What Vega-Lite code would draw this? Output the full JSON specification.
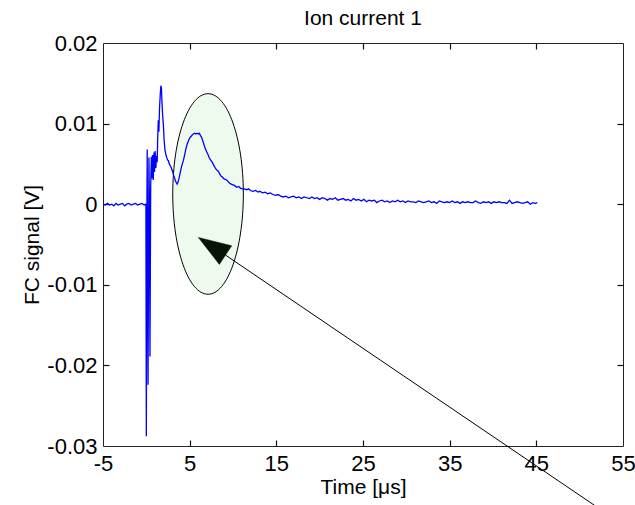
{
  "$schema": "https://vega.github.io/schema/vega-lite/v6.json",
  "autosize": {"type": "none"},
  "padding": {"left": 103, "top": 43, "right": 12, "bottom": 59},
  "width": 520,
  "height": 403,
  "background": "white",
  "title": {"text": "Ion current 1", "anchor": "middle", "frame": "group", "offset": 3},
  "datasets": {
    "signal": [
      {"t": -5, "v": 0.0000}, {"t": -4.75, "v": -0.0001}, {"t": -4.5, "v": 0.0001}, {"t": -4.25, "v": -0.0001},
      {"t": -4, "v": 0.0000}, {"t": -3.75, "v": -0.0002}, {"t": -3.5, "v": 0.0001}, {"t": -3.25, "v": -0.0001},
      {"t": -3, "v": 0.0000}, {"t": -2.75, "v": 0.0001}, {"t": -2.5, "v": -0.0002}, {"t": -2.25, "v": 0.0000},
      {"t": -2, "v": 0.0001}, {"t": -1.75, "v": -0.0001}, {"t": -1.5, "v": 0.0000}, {"t": -1.25, "v": 0.0001},
      {"t": -1, "v": -0.0001}, {"t": -0.75, "v": 0.0000}, {"t": -0.5, "v": 0.0001}, {"t": -0.25, "v": -0.0001},
      {"t": -0.1, "v": 0.0000}, {"t": -0.05, "v": -0.0002},
      {"t": 0.0, "v": -0.0288}, {"t": 0.05, "v": -0.004}, {"t": 0.1, "v": 0.0068}, {"t": 0.15, "v": -0.010},
      {"t": 0.2, "v": -0.0224}, {"t": 0.25, "v": -0.006}, {"t": 0.3, "v": 0.0058}, {"t": 0.35, "v": 0.001},
      {"t": 0.42, "v": -0.0189}, {"t": 0.5, "v": 0.002}, {"t": 0.58, "v": 0.0059}, {"t": 0.65, "v": 0.0032},
      {"t": 0.72, "v": 0.0061}, {"t": 0.8, "v": 0.003}, {"t": 0.88, "v": 0.0064}, {"t": 0.95, "v": 0.0040},
      {"t": 1.02, "v": 0.0066}, {"t": 1.1, "v": 0.0045}, {"t": 1.18, "v": 0.0060}, {"t": 1.25, "v": 0.0052},
      {"t": 1.32, "v": 0.0085}, {"t": 1.38, "v": 0.0104}, {"t": 1.45, "v": 0.0090}, {"t": 1.52, "v": 0.0118},
      {"t": 1.6, "v": 0.0135}, {"t": 1.68, "v": 0.0147}, {"t": 1.74, "v": 0.0144}, {"t": 1.8, "v": 0.0128},
      {"t": 1.88, "v": 0.0110}, {"t": 1.96, "v": 0.0100}, {"t": 2.05, "v": 0.0080}, {"t": 2.15, "v": 0.0067},
      {"t": 2.25, "v": 0.0062}, {"t": 2.35, "v": 0.0058}, {"t": 2.45, "v": 0.0055}, {"t": 2.55, "v": 0.0054},
      {"t": 2.65, "v": 0.0050}, {"t": 2.75, "v": 0.0048}, {"t": 2.85, "v": 0.0046}, {"t": 2.95, "v": 0.0043},
      {"t": 3.05, "v": 0.0040}, {"t": 3.15, "v": 0.0036}, {"t": 3.25, "v": 0.0033}, {"t": 3.35, "v": 0.0029},
      {"t": 3.45, "v": 0.0027}, {"t": 3.55, "v": 0.0025}, {"t": 3.65, "v": 0.0027}, {"t": 3.75, "v": 0.0031},
      {"t": 3.85, "v": 0.0036}, {"t": 3.95, "v": 0.0041}, {"t": 4.05, "v": 0.0046}, {"t": 4.15, "v": 0.0050},
      {"t": 4.27, "v": 0.0054}, {"t": 4.4, "v": 0.0060}, {"t": 4.55, "v": 0.0068}, {"t": 4.7, "v": 0.0074},
      {"t": 4.84, "v": 0.0078}, {"t": 5.0, "v": 0.0082}, {"t": 5.15, "v": 0.0084}, {"t": 5.3, "v": 0.0086},
      {"t": 5.42, "v": 0.0087}, {"t": 5.55, "v": 0.0088}, {"t": 5.7, "v": 0.0087}, {"t": 5.85, "v": 0.0088},
      {"t": 6.0, "v": 0.0087}, {"t": 6.12, "v": 0.0088}, {"t": 6.25, "v": 0.0085}, {"t": 6.38, "v": 0.0083},
      {"t": 6.5, "v": 0.0079}, {"t": 6.65, "v": 0.0074}, {"t": 6.8, "v": 0.0069}, {"t": 6.96, "v": 0.0065},
      {"t": 7.1, "v": 0.0062}, {"t": 7.25, "v": 0.0058}, {"t": 7.4, "v": 0.0055}, {"t": 7.54, "v": 0.0053},
      {"t": 7.7, "v": 0.0050}, {"t": 7.85, "v": 0.0047}, {"t": 8.0, "v": 0.0044}, {"t": 8.15, "v": 0.0042},
      {"t": 8.3, "v": 0.0041}, {"t": 8.45, "v": 0.0038}, {"t": 8.6, "v": 0.0035}, {"t": 8.75, "v": 0.0034},
      {"t": 8.9, "v": 0.0032}, {"t": 9.05, "v": 0.0031}, {"t": 9.27, "v": 0.0030}, {"t": 9.45, "v": 0.0028},
      {"t": 9.6, "v": 0.0026}, {"t": 9.8, "v": 0.0025}, {"t": 10.0, "v": 0.0024}, {"t": 10.2, "v": 0.0023},
      {"t": 10.43, "v": 0.0021}, {"t": 10.65, "v": 0.0022}, {"t": 10.85, "v": 0.0020}, {"t": 11.05, "v": 0.0019},
      {"t": 11.3, "v": 0.0019}, {"t": 11.58, "v": 0.0018}, {"t": 11.8, "v": 0.0019}, {"t": 12.0, "v": 0.0017},
      {"t": 12.3, "v": 0.0016}, {"t": 12.6, "v": 0.0017}, {"t": 12.9, "v": 0.0015}, {"t": 13.1, "v": 0.0016},
      {"t": 13.4, "v": 0.0014}, {"t": 13.7, "v": 0.0015}, {"t": 14.0, "v": 0.0013}, {"t": 14.3, "v": 0.0014},
      {"t": 14.6, "v": 0.0012}, {"t": 14.9, "v": 0.0011}, {"t": 15.2, "v": 0.0012}, {"t": 15.5, "v": 0.0010},
      {"t": 15.8, "v": 0.0009}, {"t": 16.1, "v": 0.0010}, {"t": 16.4, "v": 0.0008}, {"t": 16.7, "v": 0.0009},
      {"t": 17.0, "v": 0.0010}, {"t": 17.3, "v": 0.0008}, {"t": 17.6, "v": 0.0009}, {"t": 17.9, "v": 0.0007},
      {"t": 18.2, "v": 0.0009}, {"t": 18.5, "v": 0.0008}, {"t": 18.8, "v": 0.0007}, {"t": 19.1, "v": 0.0009},
      {"t": 19.4, "v": 0.0007}, {"t": 19.7, "v": 0.0008}, {"t": 20.0, "v": 0.0006}, {"t": 20.3, "v": 0.0008},
      {"t": 20.6, "v": 0.0007}, {"t": 20.9, "v": 0.0005}, {"t": 21.2, "v": 0.0007}, {"t": 21.5, "v": 0.0006},
      {"t": 21.8, "v": 0.0008}, {"t": 22.1, "v": 0.0005}, {"t": 22.4, "v": 0.0006}, {"t": 22.7, "v": 0.0007},
      {"t": 23.0, "v": 0.0005}, {"t": 23.3, "v": 0.0006}, {"t": 23.6, "v": 0.0004}, {"t": 23.9, "v": 0.0007},
      {"t": 24.2, "v": 0.0005}, {"t": 24.5, "v": 0.0006}, {"t": 24.8, "v": 0.0004}, {"t": 25.1, "v": 0.0006},
      {"t": 25.4, "v": 0.0003}, {"t": 25.7, "v": 0.0005}, {"t": 26.0, "v": 0.0004}, {"t": 26.3, "v": 0.0005},
      {"t": 26.6, "v": 0.0002}, {"t": 26.9, "v": 0.0004}, {"t": 27.2, "v": 0.0005}, {"t": 27.5, "v": 0.0003},
      {"t": 27.8, "v": 0.0004}, {"t": 28.1, "v": 0.0002}, {"t": 28.4, "v": 0.0004}, {"t": 28.7, "v": 0.0003},
      {"t": 29.0, "v": 0.0005}, {"t": 29.3, "v": 0.0003}, {"t": 29.6, "v": 0.0004}, {"t": 29.9, "v": 0.0002},
      {"t": 30.2, "v": 0.0004}, {"t": 30.5, "v": 0.0003}, {"t": 30.8, "v": 0.0003}, {"t": 31.1, "v": 0.0002},
      {"t": 31.4, "v": 0.0004}, {"t": 31.7, "v": 0.0003}, {"t": 32.0, "v": 0.0002}, {"t": 32.3, "v": 0.0003},
      {"t": 32.6, "v": 0.0004}, {"t": 32.9, "v": 0.0002}, {"t": 33.2, "v": 0.0003}, {"t": 33.5, "v": 0.0001},
      {"t": 33.8, "v": 0.0004}, {"t": 34.1, "v": 0.0003}, {"t": 34.4, "v": 0.0002}, {"t": 34.7, "v": 0.0003},
      {"t": 35.0, "v": 0.0002}, {"t": 35.3, "v": 0.0004}, {"t": 35.6, "v": 0.0002}, {"t": 35.9, "v": 0.0003},
      {"t": 36.2, "v": 0.0001}, {"t": 36.5, "v": 0.0003}, {"t": 36.8, "v": 0.0002}, {"t": 37.1, "v": 0.0003},
      {"t": 37.4, "v": 0.0002}, {"t": 37.7, "v": 0.0002}, {"t": 38.0, "v": 0.0004}, {"t": 38.3, "v": 0.0002},
      {"t": 38.6, "v": 0.0001}, {"t": 38.9, "v": 0.0003}, {"t": 39.2, "v": 0.0002}, {"t": 39.5, "v": 0.0003},
      {"t": 39.8, "v": 0.0001}, {"t": 40.1, "v": 0.0003}, {"t": 40.4, "v": 0.0002}, {"t": 40.7, "v": 0.0003},
      {"t": 41.0, "v": 0.0002}, {"t": 41.3, "v": 0.0002}, {"t": 41.6, "v": 0.0001}, {"t": 41.9, "v": 0.0005},
      {"t": 42.2, "v": 0.0001}, {"t": 42.5, "v": 0.0002}, {"t": 42.8, "v": 0.0003}, {"t": 43.1, "v": 0.0002},
      {"t": 43.4, "v": 0.0001}, {"t": 43.7, "v": 0.0002}, {"t": 44.0, "v": 0.0003}, {"t": 44.3, "v": 0.0000},
      {"t": 44.6, "v": 0.0002}, {"t": 44.9, "v": 0.0001}, {"t": 45.1, "v": 0.0002}
    ],
    "ellipse": [{"t": 7.12, "v": 0.00127}],
    "arrow": [{"t": 9.13, "v": -0.00631, "t2": 51.9, "v2": -0.0375}],
    "arrowhead": [{"t": 6.0, "v": -0.00412}]
  },
  "resolve": {"axis": {"x": "independent", "y": "independent"}},
  "layer": [
    {
      "data": {"name": "ellipse"},
      "mark": {
        "type": "point",
        "shape": "M -35.3 0 A 35.3 100.3 0 1 0 35.3 0 A 35.3 100.3 0 1 0 -35.3 0 Z",
        "size": 4,
        "filled": true,
        "fill": "#effaef",
        "stroke": "#000000",
        "strokeWidth": 1,
        "opacity": 1
      },
      "encoding": {
        "x": {"field": "t", "type": "quantitative",
              "scale": {"domain": [-5, 55], "nice": false, "zero": false},
              "axis": {"orient": "bottom", "offset": -6, "domain": false, "labels": false, "title": null, "ticks": true, "tickSize": 6,
                       "values": [5, 15, 25, 35, 45]}},
        "y": {"field": "v", "type": "quantitative",
              "scale": {"domain": [-0.03, 0.02], "nice": false, "zero": false},
              "axis": {"orient": "left", "offset": -6, "domain": false, "labels": false, "title": null, "ticks": true, "tickSize": 6,
                       "values": [-0.02, -0.01, 0, 0.01]}}
      }
    },
    {
      "data": {"name": "signal"},
      "mark": {"type": "line", "color": "#0000ff", "strokeWidth": 1.3, "clip": true},
      "encoding": {
        "x": {"field": "t", "type": "quantitative",
              "scale": {"domain": [-5, 55], "nice": false, "zero": false},
              "axis": {"orient": "bottom", "title": "Time [μs]", "values": [-5, 5, 15, 25, 35, 45, 55],
                       "domain": false, "ticks": false, "tickSize": 0,
                       "labelExpr": "'' + datum.value", "labelPadding": 7, "titlePadding": 2}},
        "y": {"field": "v", "type": "quantitative",
              "scale": {"domain": [-0.03, 0.02], "nice": false, "zero": false},
              "axis": {"orient": "left", "title": "FC signal [V]", "values": [-0.03, -0.02, -0.01, 0, 0.01, 0.02],
                       "domain": false, "ticks": false, "tickSize": 0,
                       "labelExpr": "'' + datum.value", "labelPadding": 6, "titlePadding": 4}}
      }
    },
    {
      "data": {"name": "arrow"},
      "mark": {"type": "rule", "color": "#000000", "strokeWidth": 1, "clip": false},
      "encoding": {
        "x": {"field": "t", "type": "quantitative", "scale": {"domain": [-5, 55], "nice": false, "zero": false}, "axis": null},
        "y": {"field": "v", "type": "quantitative", "scale": {"domain": [-0.03, 0.02], "nice": false, "zero": false}, "axis": null},
        "x2": {"field": "t2"},
        "y2": {"field": "v2"}
      }
    },
    {
      "data": {"name": "arrowhead"},
      "mark": {
        "type": "point",
        "shape": "M 0 0 L 33.4 8.4 L 21 27 Z",
        "size": 4,
        "filled": true,
        "fill": "#061406",
        "stroke": "#061406",
        "strokeWidth": 0.5,
        "opacity": 1
      },
      "encoding": {
        "x": {"field": "t", "type": "quantitative", "scale": {"domain": [-5, 55], "nice": false, "zero": false},
              "axis": {"orient": "top", "offset": -6, "domain": false, "labels": false, "title": null, "ticks": true, "tickSize": 6,
                       "values": [5, 15, 25, 35, 45]}},
        "y": {"field": "v", "type": "quantitative", "scale": {"domain": [-0.03, 0.02], "nice": false, "zero": false},
              "axis": {"orient": "right", "offset": -6, "domain": false, "labels": false, "title": null, "ticks": true, "tickSize": 6,
                       "values": [-0.02, -0.01, 0, 0.01]}}
      }
    }
  ],
  "config": {
    "font": "Liberation Sans",
    "view": {"stroke": "#222222", "strokeWidth": 1},
    "axis": {
      "grid": false,
      "domainColor": "#222222",
      "domainWidth": 1,
      "tickColor": "#111111",
      "tickWidth": 1.2,
      "labelColor": "#000000",
      "labelFont": "Liberation Sans",
      "labelFontSize": 22,
      "labelFlush": false,
      "labelOverlap": false,
      "titleFont": "Liberation Sans",
      "titleFontSize": 21,
      "titleFontWeight": "normal",
      "titleColor": "#000000"
    },
    "title": {"font": "Liberation Sans", "fontSize": 21, "fontWeight": "normal", "color": "#000000"}
  }
}
